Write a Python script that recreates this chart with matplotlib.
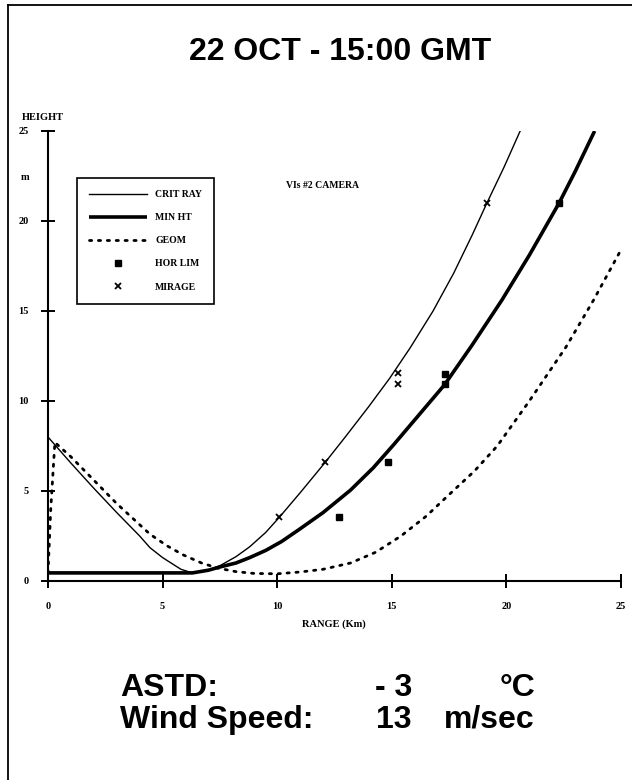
import matplotlib
matplotlib.use("Agg")
import matplotlib.pyplot as plt
from matplotlib.lines import Line2D
from matplotlib.font_manager import FontProperties

# ---------------- data ----------------
crit_x = [0.0, 1.0, 2.0, 3.0, 4.0, 4.45, 5.0, 5.8, 6.3, 7.0, 7.5, 8.2, 8.8, 9.5, 10.1,
          11.0, 12.1, 13.0, 14.0, 14.9, 15.8, 16.8, 17.7, 18.5, 19.15, 19.9, 20.6]
crit_y = [8.0, 6.55, 5.15, 3.8, 2.5, 1.85, 1.3, 0.65, 0.45, 0.6, 0.85, 1.35, 1.9, 2.7, 3.55,
          4.9, 6.6, 8.05, 9.7, 11.25, 12.95, 15.0, 17.1, 19.2, 21.0, 23.0, 25.0]

minht_x = [0.0, 6.3, 7.0, 7.5, 8.2, 8.8, 9.5, 10.2, 11.0, 12.0, 13.2, 14.2, 15.1, 16.0,
           16.7, 17.3, 18.5, 19.8, 21.0, 22.3, 23.0, 23.85]
minht_y = [0.45, 0.45, 0.6, 0.78, 1.0, 1.3, 1.7, 2.2, 2.9, 3.8, 5.05, 6.3, 7.6, 8.95,
           10.0, 10.9, 13.1, 15.6, 18.1, 21.0, 22.75, 25.0]

geom_x = [0.0, 0.12, 0.3, 1.0, 2.0, 3.0, 4.45, 5.2, 5.9, 6.7, 7.4, 8.2, 9.0, 10.0, 11.0,
          12.0, 13.2, 14.3, 15.4, 16.5, 17.5, 18.6, 19.6, 21.0, 22.6, 23.8, 25.0]
geom_y = [0.45, 4.0, 7.7, 6.9, 5.6, 4.3, 2.6, 1.95, 1.45, 1.0, 0.72, 0.52, 0.42, 0.4, 0.5,
          0.65, 1.0, 1.6, 2.5, 3.6, 4.8, 6.1, 7.5, 10.0, 13.0, 15.6, 18.4]

horlim_x = [12.7, 14.85, 17.3, 17.3, 22.3]
horlim_y = [3.55, 6.6, 11.5, 10.95, 21.0]

mirage_x = [10.1, 12.1, 15.25, 15.25, 19.15]
mirage_y = [3.55, 6.6, 11.55, 10.95, 21.0]

ticks = [0, 5, 10, 15, 20, 25]
tick_labels = ["0", "5", "10", "15", "20", "25"]

title = "22 OCT - 15:00 GMT"
subtitle = "VIs #2 CAMERA"
info_rows = [("ASTD:", "- 3", "\u00b0C"), ("Wind Speed:", "13", "m/sec")]

# ---------------- figure ----------------
W, H = 632, 780
fig = plt.figure(figsize=(W / 100, H / 100), dpi=100)
fig.patch.set_facecolor("white")

serif_b = FontProperties(family="Liberation Serif", weight="bold", size=7.5)
sans = "Liberation Sans"

ax = fig.add_axes([48 / W, 1 - 581 / H, 573 / W, 450 / H])
ax.set_xlim(0, 25)
ax.set_ylim(0, 25)
for s in ["top", "right"]:
    ax.spines[s].set_visible(False)
for s in ["left", "bottom"]:
    ax.spines[s].set_linewidth(1.5)

ax.set_xticks(ticks)
ax.set_yticks(ticks)
ax.set_xticklabels(tick_labels, fontproperties=serif_b)
ax.set_yticklabels(tick_labels, fontproperties=serif_b)
ax.tick_params(axis="both", direction="inout", length=10, width=1.4)
ax.tick_params(axis="x", pad=10)
ax.tick_params(axis="y", pad=9)

ax.plot(crit_x, crit_y, color="black", lw=1.0, label="CRIT RAY")
ax.plot(minht_x, minht_y, color="black", lw=2.6, label="MIN HT", solid_capstyle="butt")
ax.plot(geom_x, geom_y, color="black", lw=2.0, ls=(0, (0.8, 2.4)), label="GEOM",
        dash_capstyle="round")
ax.plot(horlim_x, horlim_y, ls="none", marker="s", ms=5, color="black", label="HOR LIM")
ax.plot(mirage_x, mirage_y, ls="none", marker="x", ms=5, mew=1.3, color="black",
        label="MIRAGE")

leg = ax.legend(loc="upper left", bbox_to_anchor=((77 - 48) / 573, (581 - 178) / 450),
                borderaxespad=0, frameon=True, fancybox=False, edgecolor="black",
                framealpha=1, prop=FontProperties(family="Liberation Serif", weight="bold", size=7),
                handlelength=6.0, handletextpad=0.8, labelspacing=1.45, borderpad=1.25,
                numpoints=1)
leg.get_frame().set_linewidth(1.2)

# axis texts
fig.text(22 / W, 1 - 117 / H, "HEIGHT", ha="left", va="center", fontproperties=serif_b)
fig.text(25 / W, 1 - 177 / H, "m", ha="center", va="center", fontproperties=serif_b)
fig.text(334 / W, 1 - 624 / H, "RANGE (Km)", ha="center", va="center", fontproperties=serif_b)
fig.text(322 / W, 1 - 186 / H, subtitle, ha="center", va="center",
         fontproperties=FontProperties(family="Liberation Serif", weight="bold", size=7))

# title
fig.text(340 / W, 1 - 60 / H, title, ha="center", va="baseline", fontsize=23,
         family=sans, weight="bold")

# info block
for i, (lab, val, unit) in enumerate(info_rows):
    yb = 1 - (696 + 32 * i) / H
    fig.text(120 / W, yb, lab, ha="left", va="baseline", fontsize=23, family=sans, weight="bold")
    fig.text(412 / W, yb, val, ha="right", va="baseline", fontsize=23, family=sans, weight="bold")
    fig.text(535 / W, yb, unit, ha="right", va="baseline", fontsize=23, family=sans, weight="bold")

# page border
fig.add_artist(Line2D([8 / W, 8 / W], [0, 1 - 5 / H], color="black", lw=1.3,
                      transform=fig.transFigure))
fig.add_artist(Line2D([8 / W, 1], [1 - 5 / H, 1 - 5 / H], color="black", lw=1.3,
                      transform=fig.transFigure))

fig.savefig("out.png", dpi=100)
